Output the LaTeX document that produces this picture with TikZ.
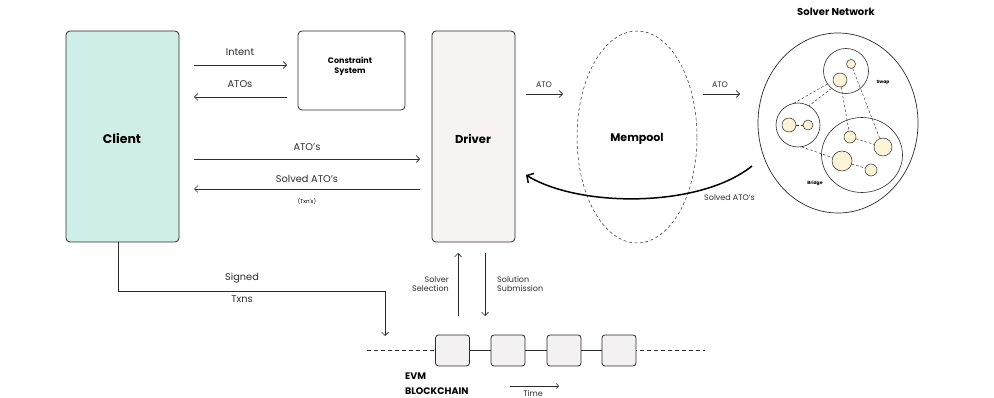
\documentclass[tikz,border=0pt]{standalone}
\usepackage{fontspec}
\setmainfont{Poppins}
\usetikzlibrary{arrows.meta,shapes.geometric}
\definecolor{ink}{HTML}{2B2B2B}
\definecolor{clientfill}{HTML}{CFEEE7}
\definecolor{driverfill}{HTML}{F7F3F3}
\definecolor{blockfill}{HTML}{F3F1F1}
\definecolor{dotfill}{HTML}{FCF4D6}
\tikzset{
  box/.style={draw=ink, line width=0.8pt, rounded corners=4pt, inner sep=0pt},
  arr/.style={draw=ink, line width=0.7pt, -{Straight Barb[length=3.5pt,width=7pt]}},
  lbl/.style={font=\fontsize{9.8}{11}\selectfont, text=ink, inner sep=0pt},
  slbl/.style={font=\fontsize{8}{9.5}\selectfont, text=ink, inner sep=0pt},
  big/.style={font=\bfseries\fontsize{11.5}{13}\selectfont, text=black, inner sep=0pt},
  dot/.style={circle, draw=ink, fill=dotfill, line width=0.5pt, inner sep=0pt},
  grp/.style={circle, draw=ink, line width=0.6pt, inner sep=0pt},
  dl/.style={draw=ink, dashed, dash pattern=on 2.5pt off 2pt, line width=0.45pt},
  blk/.style={box, fill=blockfill, minimum width=34pt, minimum height=31pt, rounded corners=3pt},
}
\begin{document}
\begin{tikzpicture}[x=1pt,y=-1pt]
\useasboundingbox (0,0) rectangle (994,398);

% Main boxes
\node[box, fill=clientfill, minimum width=113pt, minimum height=211pt] (client) at (122.5,136.5) {};
\node[big, font=\bfseries\fontsize{12.5}{14}\selectfont] (clientT) at (122,139) {Client};
\node[box, minimum width=107pt, minimum height=79pt] (cs) at (351.5,70.5) {};
\node[font=\bfseries\fontsize{8}{10}\selectfont, align=center, inner sep=0pt] (csT) at (350,66) {Constraint\\System};
\node[box, fill=driverfill, minimum width=83pt, minimum height=211pt] (driver) at (473.5,136.5) {};
\node[big] (driverT) at (473,139) {Driver};

% Mempool
\node[ellipse, draw=ink, dashed, dash pattern=on 3pt off 2.5pt, line width=0.5pt, minimum width=120pt, minimum height=212pt, inner sep=0pt] (mempool) at (637,137) {};
\node[big, font=\bfseries\fontsize{11}{13}\selectfont] (mempoolT) at (637,139) {Mempool};

% Solver network
\node[big, font=\bfseries\fontsize{10}{12}\selectfont] (snT) at (836,12) {Solver Network};
\node[ellipse, draw=ink, line width=0.7pt, minimum width=160pt, minimum height=180pt, inner sep=0pt] (sn) at (838,123) {};
\node[grp, minimum size=45pt] (swap) at (846,71) {};
\node[grp, minimum size=44pt] (left) at (798,125) {};
\node[ellipse, draw=ink, line width=0.6pt, minimum width=81pt, minimum height=75pt, inner sep=0pt] (bridge) at (862,155) {};
\node[font=\bfseries\fontsize{4.5}{5}\selectfont, inner sep=0pt] (swapT) at (883,82) {Swap};
\node[font=\bfseries\fontsize{4.5}{5}\selectfont, inner sep=0pt] (bridgeT) at (815,183) {Bridge};
\node[dot, minimum size=9pt] (dA) at (851,64) {};
\node[dot, minimum size=14pt] (dB) at (840,80) {};
\node[dot, minimum size=14pt] (dC) at (789,125) {};
\node[dot, minimum size=10pt] (dD) at (808,125) {};
\node[dot, minimum size=12pt] (dE) at (850,137) {};
\node[dot, minimum size=18pt] (dF) at (883,147) {};
\node[dot, minimum size=20pt] (dG) at (842,161) {};
\node[dot, minimum size=12pt] (dH) at (871,170) {};
\draw[dl] (swap.230) -- (left.60);
\draw[dl] (swap.215) -- (left.100);
\draw[dl] (dB) -- (dE);
\draw[dl] (dA) -- (dF);
\draw[dl] (dC) -- (dD);
\draw[dl] (left.280) -- (dG);
\draw[dl] (dE) -- (dF);
\draw[dl] (dG) -- (dH);

% Client <-> Constraint system
\coordinate (i1) at (194,65); \coordinate (i2) at (287,65);
\draw[arr] (i1) -- (i2);
\node[lbl] (intentT) at (240,52) {Intent};
\coordinate (a1) at (287,97); \coordinate (a2) at (194,97);
\draw[arr] (a1) -- (a2);
\node[lbl] (atosT) at (240,84) {ATOs};

% Client <-> Driver
\coordinate (b1) at (194,159); \coordinate (b2) at (420,159);
\draw[arr] (b1) -- (b2);
\node[lbl] (atosT2) at (307,147) {ATO's};
\coordinate (c1) at (420,189); \coordinate (c2) at (194,189);
\draw[arr] (c1) -- (c2);
\node[lbl] (solvedT) at (307,179) {Solved ATO's};
\node[font=\fontsize{5.5}{6}\selectfont, inner sep=0pt] (txnT) at (307,201) {(Txn's)};

% Driver -> Mempool -> Solvers
\coordinate (d1) at (526,94); \coordinate (d2) at (563,94);
\draw[arr] (d1) -- (d2);
\node[slbl] (atoT1) at (544,85) {ATO};
\coordinate (e1) at (703,94); \coordinate (e2) at (740,94);
\draw[arr] (e1) -- (e2);
\node[slbl] (atoT2) at (720,85) {ATO};

% Curved return
\coordinate (r1) at (752,166); \coordinate (r2) at (526,175);
\draw[draw=black, line width=1.5pt, -{Straight Barb[length=5pt,width=11pt]}] (r1) .. controls (700,208) and (580,208) .. (r2);
\node[slbl, anchor=west] (solvedT2) at (704,198) {Solved ATO's};

% Blockchain
\coordinate (ch1) at (367,350); \coordinate (ch2) at (705,350);
\draw[draw=ink, dashed, dash pattern=on 4pt off 3pt, line width=0.6pt] (ch1) -- (ch2);
\node[blk] (k1) at (452.5,350.5) {};
\node[blk] (k2) at (508,350.5) {};
\node[blk] (k3) at (564,350.5) {};
\node[blk] (k4) at (619,350.5) {};
\draw[draw=ink, line width=0.7pt] (k1) -- (k2) (k2) -- (k3) (k3) -- (k4);
\node[font=\bfseries\fontsize{9.5}{15}\selectfont, align=left, anchor=north west, inner sep=0pt] (evmT) at (405,373) {EVM\\BLOCKCHAIN};
\coordinate (t1) at (510,386); \coordinate (t2) at (559,386);
\draw[draw=ink, line width=0.5pt, -{Straight Barb[length=2.5pt,width=5pt]}] (t1) -- (t2);
\node[slbl, anchor=base] (timeT) at (533,396.5) {Time};

% Client -> chain
\coordinate (s0) at (118,242); \coordinate (s1) at (118,291); \coordinate (s2) at (385,291); \coordinate (s3) at (385,336);
\draw[arr] (client.south -| s0) -- (s1) -- (s2) -- (s3);
\node[lbl] (signedT) at (242,278) {Signed};
\node[lbl] (txnsT) at (242,299) {Txns};

% Driver <-> chain
\coordinate (u1) at (458,316); \coordinate (u2) at (458,253);
\draw[arr] (u1) -- (u2);
\node[slbl, align=right, anchor=east] (selT) at (449,284) {Solver\\Selection};
\coordinate (v1) at (485,253); \coordinate (v2) at (485,316);
\draw[arr] (v1) -- (v2);
\node[slbl, align=left, anchor=west] (subT) at (497,284) {Solution\\Submission};
\end{tikzpicture}
\end{document}
